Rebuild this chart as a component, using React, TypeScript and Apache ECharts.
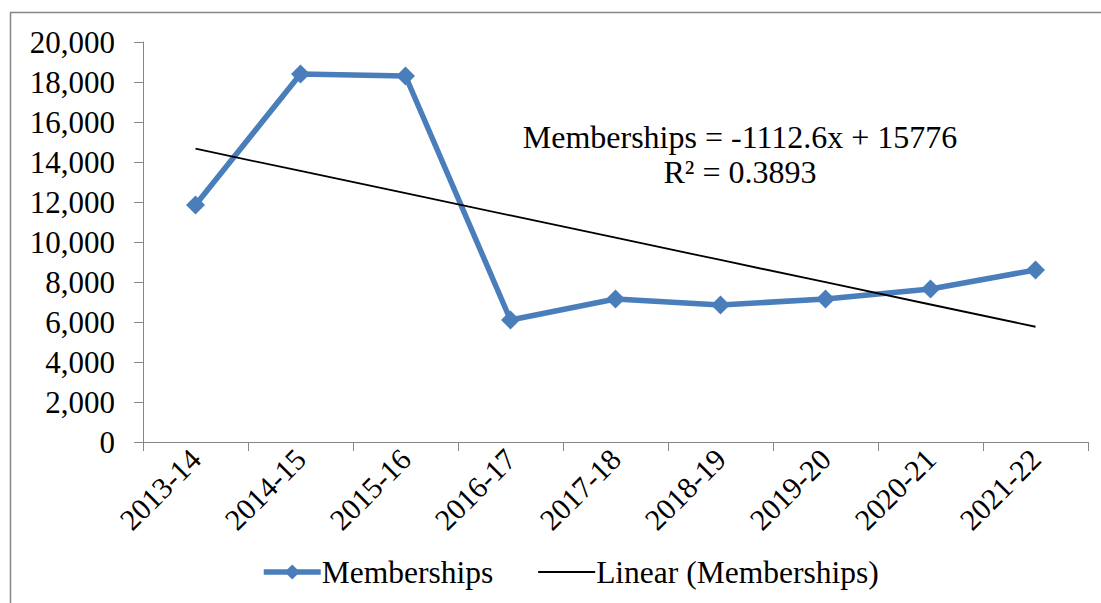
import React, { useEffect, useRef } from "react";
import * as echarts from "echarts";

const categories = ["2013-14", "2014-15", "2015-16", "2016-17", "2017-18", "2018-19", "2019-20", "2020-21", "2021-22"];
const memberships = [11850, 18400, 18300, 6100, 7150, 6850, 7150, 7650, 8600];
const trendSlope = -1112.6;
const trendIntercept = 15776;
const rSquared = "0.3893";
const yTicks = { min: 0, max: 20000, interval: 2000 };

const FONT = "'Liberation Serif', 'Times New Roman', serif";
const BLUE = "#4a7ebb";
const AXIS = "#868686";

export default function App() {
  const ref = useRef<HTMLDivElement>(null);
  useEffect(() => {
    if (!ref.current) return;
    const chart = echarts.init(ref.current, null, { renderer: "svg" });
    const trend = categories.map((_, i) => +(trendSlope * (i + 1) + trendIntercept).toFixed(1));
    chart.setOption({
      animation: false,
      backgroundColor: "#ffffff",
      textStyle: { fontFamily: FONT },
      grid: { left: 143, right: 13, top: 42, bottom: 161, containLabel: false },
      xAxis: {
        type: "category",
        data: categories,
        boundaryGap: true,
        axisLine: { lineStyle: { color: AXIS, width: 1 } },
        axisTick: { show: true, length: 9, alignWithLabel: false, lineStyle: { color: AXIS } },
        axisLabel: { rotate: 45, margin: 12, fontSize: 30, color: "#000", fontFamily: FONT, interval: 0 },
        splitLine: { show: false },
      },
      yAxis: {
        type: "value",
        min: yTicks.min,
        max: yTicks.max,
        interval: yTicks.interval,
        axisLine: { show: true, lineStyle: { color: AXIS, width: 1 } },
        axisTick: { show: true, length: 9, lineStyle: { color: AXIS } },
        axisLabel: {
          margin: 28,
          fontSize: 31,
          color: "#000",
          fontFamily: FONT,
          formatter: (v: number) => v.toLocaleString("en-US"),
        },
        splitLine: { show: false },
      },
      legend: {
        bottom: 10,
        left: 256,
        itemWidth: 57,
        itemHeight: 19,
        itemGap: 44,
        textStyle: { fontSize: 31.5, color: "#000", fontFamily: FONT, padding: [0, 0, 0, -4] },
        data: [
          { name: "Memberships", lineStyle: { width: 5.5, color: BLUE } },
          { name: "Linear (Memberships)", itemStyle: { opacity: 0 }, lineStyle: { width: 1.8, color: "#000" } },
        ],
      },
      series: [
        {
          name: "Memberships",
          type: "line",
          data: memberships,
          symbol: "diamond",
          symbolSize: 19,
          lineStyle: { color: BLUE, width: 5.5 },
          itemStyle: { color: BLUE },
          z: 2,
        },
        {
          name: "Linear (Memberships)",
          type: "line",
          data: trend,
          symbol: "none",
          lineStyle: { color: "#000", width: 1.8 },
          itemStyle: { color: "#000" },
          z: 3,
        },
      ],
      graphic: [
        {
          type: "rect",
          shape: { x: 10.5, y: 12.5, width: 1200, height: 700 },
          style: { fill: "none", stroke: AXIS, lineWidth: 1.5 },
          silent: true,
          z: -1,
        },
        {
          type: "text",
          x: 740,
          y: 137,
          style: {
            text: `Memberships = ${trendSlope}x + ${trendIntercept}`,
            fontSize: 32,
            fontFamily: FONT,
            fill: "#000",
            textAlign: "center",
            textVerticalAlign: "middle",
          },
        },
        {
          type: "text",
          x: 740,
          y: 172,
          style: {
            text: `R² = ${rSquared}`,
            fontSize: 32,
            fontFamily: FONT,
            fill: "#000",
            textAlign: "center",
            textVerticalAlign: "middle",
          },
        },
      ],
    });
    return () => chart.dispose();
  }, []);
  return (
    <div
      ref={ref}
      style={{ position: "fixed", left: 0, top: 0, width: 1101, height: 603, background: "#fff" }}
    />
  );
}
